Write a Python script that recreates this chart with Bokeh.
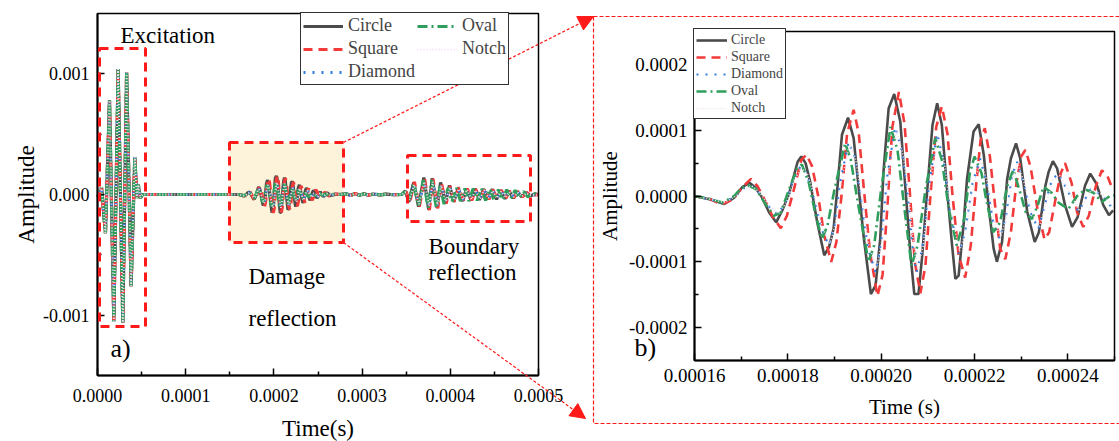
from bokeh.plotting import figure
from bokeh.models import (Range1d, FixedTicker, PrintfTickFormatter, Legend, LegendItem,
                          BoxAnnotation, Label, Arrow, NormalHead, LinearAxis)
from bokeh.embed import file_html
from bokeh.resources import INLINE

US = 1e-6   # time lists below are in microseconds
AU = 1e-4   # amplitude lists below are in units of 1e-4

models = ["Circle", "Square", "Diamond", "Oval", "Notch"]

# excitation tone burst (same for all five defect models)
exc_t = [0.0, 2.0, 4.5, 9.0, 13.6, 18.5, 23.4, 28.7, 33.0, 38.1, 42.3, 44.6, 46.3, 48.5, 51.0, 55.0]
exc_a = [0.0, -0.3, 0.6, -3.2, 7.8, -10.5, 10.4, -10.6, 10.1, -7.6, 3.1, -0.3, 0.8, -0.3, 0.0, 0.0]

# damage reflection, 160 - 275 us
circle_dmg_t = [160.0, 163.2, 166.4, 168.6, 170.3, 171.8, 173.0, 174.3, 176.0, 177.5, 178.8, 180.3,
                182.1, 182.9, 183.8, 184.8, 186.3, 187.8, 188.8, 189.8, 190.6, 191.6, 192.9, 194.1,
                195.2, 196.3, 197.8, 198.8, 199.8, 200.5, 201.6, 202.8, 204.1, 205.2, 206.3, 207.1,
                208.0, 208.8, 209.9, 211.0, 212.0, 213.0, 214.1, 215.2, 215.9, 216.6, 217.7, 218.4,
                219.8, 220.9, 222.0, 223.0, 224.1, 224.8, 225.9, 227.0, 227.8, 228.9, 229.8, 231.3,
                232.9, 233.8, 235.2, 235.9, 236.8, 237.7, 239.4, 240.9, 242.1, 243.7, 244.8, 246.1,
                247.6, 248.8, 249.7, 251.0, 252.5, 254.5, 256.5, 258.5, 261.0, 263.5, 266.0, 270.0, 275.0]
circle_dmg_a = [0.00, -0.05, -0.12, -0.02, 0.14, 0.20, 0.13, 0.00, -0.25, -0.40, -0.22, 0.04,
                0.52, 0.60, 0.50, 0.21, -0.40, -0.90, -0.78, -0.50, 0.11, 0.93, 1.19, 0.88,
                0.11, -0.65, -1.49, -1.36, -0.65, 0.37, 1.33, 1.55, 1.13, 0.11, -0.90, -1.49,
                -1.49, -0.90, 0.11, 1.08, 1.41, 1.08, 0.11, -0.75, -1.26, -1.21, -0.40, 0.26,
                0.98, 1.09, 0.62, -0.14, -0.80, -1.00, -0.70, 0.26, 0.57, 0.80, 0.57, -0.24,
                -0.70, -0.55, 0.16, 0.37, 0.53, 0.42, -0.14, -0.47, -0.32, 0.16, 0.34, 0.19,
                -0.14, -0.29, -0.22, 0.05, 0.22, -0.05, -0.18, 0.10, 0.12, -0.08, -0.06, 0.03, 0.00]

square_dmg_t = [160.0, 163.5, 165.7, 168.0, 170.5, 172.1, 173.5, 175.0, 176.8, 178.5, 179.8, 181.3,
                182.9, 184.0, 185.2, 186.5, 187.8, 189.3, 190.4, 191.5, 192.7, 194.1, 195.2, 196.3,
                197.6, 199.2, 200.3, 201.3, 202.4, 203.8, 205.0, 206.1, 207.2, 208.4, 209.5, 210.6,
                211.8, 213.0, 214.2, 215.3, 216.6, 218.0, 219.2, 220.4, 221.3, 222.2, 223.3, 224.5,
                225.5, 226.6, 227.8, 229.0, 230.0, 230.9, 232.0, 233.5, 235.0, 236.0, 237.5, 238.5,
                239.4, 240.8, 242.0, 243.3, 244.5, 246.0, 247.3, 248.5, 249.5, 251.5, 253.5, 256.0,
                258.0, 260.5, 263.0, 266.0, 270.0, 275.0]
square_dmg_a = [0.00, -0.05, -0.13, -0.06, 0.15, 0.26, 0.15, -0.05, -0.32, -0.49, -0.30, 0.10,
                0.55, 0.63, 0.45, 0.00, -0.60, -1.00, -0.70, 0.00, 0.95, 1.31, 0.95, 0.10,
                -0.85, -1.52, -1.20, -0.20, 1.05, 1.58, 1.10, 0.10, -1.00, -1.48, -1.05, 0.05,
                1.05, 1.36, 0.95, 0.00, -0.90, -1.24, -0.75, 0.20, 0.85, 1.03, 0.60, -0.20,
                -0.80, -0.96, -0.55, 0.20, 0.60, 0.70, 0.45, -0.20, -0.66, -0.55, 0.00, 0.35,
                0.50, 0.20, -0.25, -0.47, -0.30, 0.15, 0.39, 0.30, 0.12, -0.18, -0.25, 0.05,
                0.20, -0.05, -0.14, 0.06, 0.04, 0.00]

diamond_dmg_t = [160.0, 163.2, 166.2, 168.8, 170.6, 172.1, 173.8, 175.8, 177.8, 179.5, 181.2, 182.7,
                 184.0, 185.5, 187.2, 188.8, 190.0, 191.2, 193.0, 194.3, 195.6, 197.2, 198.8, 200.0,
                 201.3, 203.0, 204.4, 205.7, 206.8, 207.6, 208.8, 210.3, 212.0, 213.3, 214.7, 216.6,
                 218.0, 219.6, 221.2, 222.6, 224.0, 225.4, 226.8, 228.0, 229.1, 230.5, 232.0, 233.7,
                 235.2, 236.6, 238.0, 239.8, 242.3, 244.8, 247.3, 249.7, 252.0, 254.5, 257.0, 260.0,
                 264.0, 270.0, 275.0]
diamond_dmg_a = [0.00, -0.05, -0.10, 0.00, 0.12, 0.16, 0.05, -0.15, -0.28, -0.10, 0.25, 0.45,
                 0.35, 0.00, -0.50, -0.75, -0.45, 0.20, 0.82, 0.60, 0.00, -0.80, -1.16, -0.70,
                 0.30, 1.05, 0.70, 0.00, -0.80, -1.16, -0.80, 0.20, 0.95, 0.55, -0.20, -0.88,
                 -0.55, 0.20, 0.57, 0.20, -0.40, -0.65, -0.30, 0.30, 0.52, 0.20, -0.25, -0.50,
                 -0.10, 0.25, 0.34, 0.10, -0.24, 0.10, 0.02, -0.20, 0.10, 0.05, -0.10, 0.08,
                 -0.05, 0.02, 0.00]

oval_dmg_t = [160.0, 163.0, 166.0, 168.5, 170.0, 171.5, 173.3, 175.0, 177.0, 178.5, 180.0, 182.0,
              183.0, 184.5, 186.0, 187.3, 188.5, 190.0, 192.3, 193.5, 195.0, 197.3, 198.5, 200.0,
              202.0, 203.5, 205.0, 206.5, 207.8, 209.5, 211.6, 213.0, 214.5, 216.2, 217.8, 219.0,
              220.0, 221.5, 222.5, 224.0, 225.5, 227.0, 228.3, 229.8, 231.0, 232.3, 233.5, 234.8,
              236.5, 238.0, 240.1, 242.0, 243.7, 245.5, 247.3, 249.0, 250.0, 252.0, 255.0, 258.0,
              262.0, 268.0, 275.0]
oval_dmg_a = [0.00, -0.04, -0.10, 0.00, 0.12, 0.16, 0.10, -0.10, -0.30, -0.25, 0.05, 0.42,
              0.48, 0.20, -0.30, -0.65, -0.45, 0.10, 0.80, 0.55, -0.10, -1.00, -0.75, 0.10,
              1.05, 0.70, -0.20, -1.06, -0.75, 0.10, 0.88, 0.55, -0.20, -0.75, -0.35, 0.35,
              0.60, 0.35, -0.05, -0.55, -0.40, 0.15, 0.40, 0.05, -0.25, -0.35, -0.15, 0.14,
              0.05, -0.10, -0.20, 0.00, 0.10, 0.05, -0.09, 0.00, 0.01, 0.08, -0.06, 0.05,
              -0.04, 0.02, 0.00]

notch_dmg_t = [160.0, 163.4, 166.4, 169.0, 170.8, 172.3, 174.0, 176.0, 178.0, 179.7, 181.4, 182.9,
               184.2, 185.7, 187.4, 189.0, 190.2, 191.4, 193.2, 194.5, 195.8, 197.4, 199.0, 200.2,
               201.5, 203.2, 204.6, 205.9, 207.0, 207.8, 209.0, 210.5, 212.2, 213.5, 214.9, 216.8,
               218.2, 219.8, 221.4, 222.8, 224.2, 225.6, 227.0, 228.2, 229.3, 230.7, 232.2, 233.9,
               235.4, 236.8, 238.2, 240.0, 242.5, 245.0, 247.5, 249.9, 252.2, 254.7, 257.2, 260.2,
               264.2, 270.0, 275.0]
notch_dmg_a = [0.00, -0.05, -0.10, 0.00, 0.11, 0.15, 0.05, -0.14, -0.27, -0.10, 0.24, 0.43,
               0.33, 0.00, -0.48, -0.72, -0.43, 0.19, 0.78, 0.57, 0.00, -0.76, -1.10, -0.67,
               0.28, 1.00, 0.66, 0.00, -0.76, -1.10, -0.76, 0.19, 0.90, 0.52, -0.19, -0.84,
               -0.52, 0.19, 0.54, 0.19, -0.38, -0.62, -0.28, 0.28, 0.49, 0.19, -0.24, -0.47,
               -0.10, 0.24, 0.32, 0.10, -0.23, 0.09, 0.02, -0.18, 0.09, 0.05, -0.09, 0.07,
               -0.05, 0.02, 0.00]

# low-level ringing between the two reflections (all models)
gap_t = [282.0, 287.0, 292.0, 297.0, 302.0, 307.0, 313.0, 320.0, 328.0, 336.0]
gap_a = [0.06, -0.08, 0.08, -0.07, 0.06, -0.05, 0.04, -0.03, 0.03, -0.02]

# boundary reflection, 345 - 500 us
circle_bnd_t = [345.0, 349.0, 353.0, 358.5, 364.0, 370.0, 375.5, 379.5, 385.0, 389.0, 394.5, 399.0,
                404.0, 409.0, 414.0, 418.5, 423.5, 428.0, 433.0, 438.0, 443.0, 447.5, 452.5, 457.0,
                462.0, 466.5, 471.5, 476.0, 481.0, 486.0, 491.0, 496.0, 500.0]
circle_bnd_a = [0.0, 0.3, -0.6, 1.0, -1.0, 1.4, -1.25, 1.35, -1.1, 1.0, -0.7, 0.75,
                -0.6, 0.55, -0.55, 0.5, -0.5, 0.5, -0.45, 0.45, -0.4, 0.45, -0.4, 0.35,
                -0.35, 0.3, -0.3, 0.25, -0.2, 0.15, -0.1, 0.05, 0.0]

square_bnd_t = [345.0, 349.8, 353.8, 359.3, 364.8, 370.8, 376.3, 380.3, 385.8, 389.8, 395.3, 399.8,
                404.8, 409.8, 414.8, 419.3, 424.3, 428.8, 433.8, 438.8, 443.8, 448.3, 453.3, 457.8,
                462.8, 467.3, 472.3, 476.8, 481.8, 486.8, 491.8, 500.0]
square_bnd_a = [0.0, 0.3, -0.7, 1.05, -1.05, 1.35, -1.3, 1.3, -1.15, 0.95, -0.75, 0.7,
                -0.6, 0.6, -0.5, 0.5, -0.5, 0.45, -0.45, 0.45, -0.4, 0.4, -0.35, 0.35,
                -0.35, 0.3, -0.25, 0.25, -0.2, 0.15, -0.1, 0.0]

diamond_bnd_t = [345.0, 349.4, 353.4, 358.9, 364.4, 370.4, 375.9, 379.9, 385.4, 389.4, 394.9, 399.4,
                 404.4, 409.4, 414.4, 418.9, 423.9, 428.4, 433.4, 438.4, 443.4, 447.9, 452.9, 457.4,
                 462.4, 466.9, 471.9, 476.4, 481.4, 486.4, 491.4, 500.0]
diamond_bnd_a = [0.0, 0.25, -0.5, 0.85, -0.85, 1.1, -1.0, 1.1, -0.9, 0.8, -0.6, 0.6,
                 -0.5, 0.45, -0.45, 0.4, -0.4, 0.4, -0.35, 0.35, -0.3, 0.35, -0.3, 0.3,
                 -0.25, 0.25, -0.2, 0.2, -0.15, 0.1, -0.05, 0.0]

oval_bnd_t = [345.0, 349.0, 353.0, 358.5, 364.0, 369.5, 375.0, 379.0, 384.0, 388.5, 393.0, 397.5,
              402.0, 407.0, 411.5, 416.5, 421.0, 426.0, 430.5, 435.5, 440.0, 445.0, 449.5, 454.5,
              459.0, 464.0, 468.5, 473.5, 478.0, 483.0, 488.0, 493.0, 500.0]
oval_bnd_a = [0.0, 0.25, -0.5, 0.9, -0.95, 1.2, -1.1, 1.2, -1.0, 0.7, -0.8, 0.55,
              -0.6, 0.55, -0.55, 0.5, -0.55, 0.5, -0.5, 0.5, -0.5, 0.45, -0.45, 0.4,
              -0.45, 0.4, -0.35, 0.35, -0.3, 0.25, -0.2, 0.1, 0.0]

notch_bnd_t = [345.0, 349.5, 353.5, 359.0, 364.5, 370.5, 376.0, 380.0, 385.5, 389.5, 395.0, 399.5,
               404.5, 409.5, 414.5, 419.0, 424.0, 428.5, 433.5, 438.5, 443.5, 448.0, 453.0, 457.5,
               462.5, 467.0, 472.0, 476.5, 481.5, 486.5, 491.5, 500.0]
notch_bnd_a = [0.0, 0.2, -0.45, 0.8, -0.8, 1.05, -0.95, 1.05, -0.85, 0.75, -0.55, 0.55,
               -0.45, 0.45, -0.4, 0.4, -0.4, 0.35, -0.35, 0.35, -0.3, 0.3, -0.3, 0.25,
               -0.25, 0.2, -0.2, 0.15, -0.15, 0.1, -0.05, 0.0]

damage = {"Circle": (circle_dmg_t, circle_dmg_a), "Square": (square_dmg_t, square_dmg_a),
          "Diamond": (diamond_dmg_t, diamond_dmg_a), "Oval": (oval_dmg_t, oval_dmg_a),
          "Notch": (notch_dmg_t, notch_dmg_a)}
boundary = {"Circle": (circle_bnd_t, circle_bnd_a), "Square": (square_bnd_t, square_bnd_a),
            "Diamond": (diamond_bnd_t, diamond_bnd_a), "Oval": (oval_bnd_t, oval_bnd_a),
            "Notch": (notch_bnd_t, notch_bnd_a)}

# axis limits and tick positions of the two panels
a_xlim, a_ylim = (0.0, 0.0005), (-0.0015, 0.0015)
a_xticks = [0.0, 0.0001, 0.0002, 0.0003, 0.0004, 0.0005]
a_xminor = [0.00005, 0.00015, 0.00025, 0.00035, 0.00045]
a_yticks = [-0.001, 0.0, 0.001]
a_yminor = [-0.0005, 0.0005]
b_xlim, b_ylim = (0.00016, 0.00025), (-0.00025, 0.00025)
b_xticks = [0.00016, 0.00018, 0.0002, 0.00022, 0.00024]
b_xminor = [0.00017, 0.00019, 0.00021, 0.00023, 0.00025]
b_yticks = [-0.0002, -0.0001, 0.0, 0.0001, 0.0002]
b_yminor = [-0.00015, -0.00005, 0.00005, 0.00015]

COLOR = {"Circle": "#4b4b4b", "Square": "#f23a3a", "Diamond": "#2f7ddf",
         "Oval": "#2f9e5c", "Notch": "#eedcee"}
DASH = {"Circle": "solid", "Square": "9 6", "Diamond": "2 7", "Oval": "10 4 2 4", "Notch": "1 2"}
WIDTH_A = {"Circle": 3.2, "Square": 3.2, "Diamond": 2.8, "Oval": 3.2, "Notch": 2.0}
WIDTH_B = {"Circle": 2.6, "Square": 2.6, "Diamond": 2.2, "Oval": 2.6, "Notch": 1.6}
FONT = "Liberation Serif"
RED = "#ff1a1a"

# page geometry (pixels): one canvas, each panel's plot box placed inside it
W, H = 1119, 441
A_BOX = (97, 538, 13, 375)     # left, right, top, bottom
B_BOX = (694, 1114, 31, 360)


def canvas_ranges(box, xlim, ylim):
    left, right, top, bottom = box
    sx = (xlim[1] - xlim[0]) / (right - left)
    sy = (ylim[1] - ylim[0]) / (bottom - top)
    x0 = xlim[0] - left * sx
    y1 = ylim[1] + top * sy
    conv = lambda px, py: (x0 + px * sx, y1 - py * sy)
    return Range1d(x0, x0 + W * sx), Range1d(y1 - H * sy, y1), conv


a_xr, a_yr, a_pt = canvas_ranges(A_BOX, a_xlim, a_ylim)
b_xr, b_yr, b_pt = canvas_ranges(B_BOX, b_xlim, b_ylim)

p = figure(width=W, height=H, x_range=a_xr, y_range=a_yr, title=None,
           x_axis_location=None, y_axis_location=None,
           output_backend="svg", toolbar_location=None,
           min_border_left=0, min_border_right=0, min_border_top=0, min_border_bottom=0,
           background_fill_color="white", border_fill_color="white", outline_line_color=None)
p.grid.visible = False
p.extra_x_ranges = {"b": b_xr}
p.extra_y_ranges = {"b": b_yr}


def add_axes(rn, xlim, ylim, xt, xm, yt, ym, xfmt, yfmt, xlab, ylab, tick_px, lab_px, st):
    xa = LinearAxis(x_range_name=rn, y_range_name=rn, fixed_location=ylim[0], bounds=xlim,
                    ticker=FixedTicker(ticks=xt, minor_ticks=xm),
                    formatter=PrintfTickFormatter(format=xfmt), axis_label=xlab)
    ya = LinearAxis(x_range_name=rn, y_range_name=rn, fixed_location=xlim[0], bounds=ylim,
                    ticker=FixedTicker(ticks=yt, minor_ticks=ym),
                    formatter=PrintfTickFormatter(format=yfmt), axis_label=ylab)
    for ax in (xa, ya):
        ax.axis_line_width = 2
        ax.axis_line_color = "black"
        ax.major_tick_in = 7
        ax.major_tick_out = 0
        ax.minor_tick_in = 4
        ax.minor_tick_out = 0
        ax.major_tick_line_width = 1.5
        ax.minor_tick_line_width = 1.5
        ax.major_label_text_font = FONT
        ax.major_label_text_font_size = f"{tick_px}px"
        ax.major_label_text_color = "black"
        ax.axis_label_text_font = FONT
        ax.axis_label_text_font_size = f"{lab_px}px"
        ax.axis_label_text_font_style = "normal"
        ax.axis_label_text_color = "black"
    xa.major_label_standoff, ya.major_label_standoff = st[0], st[1]
    xa.axis_label_standoff, ya.axis_label_standoff = st[2], st[3]
    p.add_layout(xa, "below")
    p.add_layout(ya, "left")
    # top and right edges of the plot box
    p.add_layout(BoxAnnotation(left=xlim[0], right=xlim[1], bottom=ylim[0], top=ylim[1],
                               x_range_name=rn, y_range_name=rn, fill_alpha=0,
                               line_color="black", line_alpha=1, line_width=1.5))


# ---------------- panel a: whole record ----------------
dl, dt = a_pt(229, 142)
dr, db = a_pt(343, 242)
p.add_layout(BoxAnnotation(left=dl, right=dr, top=dt, bottom=db,
                           fill_color="#fdf3da", fill_alpha=1, line_color=RED, line_alpha=1,
                           line_width=3, line_dash="9 6", level="underlay"))

rend_a = []
for m in models:
    t = exc_t + damage[m][0] + gap_t + boundary[m][0]
    a = exc_a + damage[m][1] + gap_a + boundary[m][1]
    rend_a.append(p.line([v * US for v in t], [v * AU for v in a], line_color=COLOR[m],
                         line_width=WIDTH_A[m], line_dash=DASH[m]))

add_axes("default", a_xlim, a_ylim, a_xticks, a_xminor, a_yticks, a_yminor, "%.4f", "%.3f",
         "Time(s)", "Amplitude", 18, 23, (13, 8, 11, 1))

for box in [(99, 145, 48, 326), (407, 530, 155, 221)]:
    l, t = a_pt(box[0], box[2])
    r, b = a_pt(box[1], box[3])
    p.add_layout(BoxAnnotation(left=l, right=r, top=t, bottom=b, fill_alpha=0,
                               line_color=RED, line_alpha=1, line_width=3, line_dash="9 6"))

for txt, px, py, size in [("Excitation", 120, 35, 23), ("Damage", 248, 276, 23),
                          ("reflection", 248, 318, 23), ("Boundary", 428, 246, 23),
                          ("reflection", 428, 272, 23), ("a)", 110, 348, 26)]:
    x, y = a_pt(px, py)
    p.add_layout(Label(x=x, y=y, text=txt, text_font=FONT, text_font_size=f"{size}px",
                       text_baseline="middle", text_align="left", text_color="black"))

leg_a = Legend(items=[LegendItem(label=m, renderers=[r]) for m, r in zip(models, rend_a)],
               location=(300, H - 85), orientation="vertical", nrows=3,
               label_text_font=FONT, label_text_font_size="18px",
               glyph_width=40, glyph_height=20, label_height=20, label_standoff=5,
               spacing=2, padding=2, margin=0,
               border_line_color="#333333", border_line_width=1.5, border_line_alpha=1,
               background_fill_color="white", background_fill_alpha=1)
p.add_layout(leg_a)

# ---------------- panel b: damage reflection detail ----------------
rend_b = []
for m in models:
    t, a = damage[m]
    keep = [i for i, v in enumerate(t) if v * US <= b_xlim[1]]
    rend_b.append(p.line([t[i] * US for i in keep], [a[i] * AU for i in keep],
                         x_range_name="b", y_range_name="b", line_color=COLOR[m],
                         line_width=WIDTH_B[m], line_dash=DASH[m]))

add_axes("b", b_xlim, b_ylim, b_xticks, b_xminor, b_yticks, b_yminor, "%.5f", "%.4f",
         "Time (s)", "Amplitude", 19, 21, (8, 7, 10, 4))

leg_b = Legend(items=[LegendItem(label=m, renderers=[r]) for m, r in zip(models, rend_b)],
               location=(693, H - 119), orientation="vertical",
               label_text_font=FONT, label_text_font_size="14px",
               glyph_width=31, glyph_height=16, label_height=17, label_standoff=4,
               spacing=0, padding=2, margin=0,
               border_line_color="#333333", border_line_width=1.5, border_line_alpha=1,
               background_fill_color="white", background_fill_alpha=1)
p.add_layout(leg_b)

bx, by = b_pt(634, 347)
p.add_layout(Label(x=bx, y=by, text="b)", text_font=FONT, text_font_size="26px",
                   x_range_name="b", y_range_name="b",
                   text_baseline="middle", text_align="left", text_color="black"))

# dashed frame around the detail panel
fl, ft = b_pt(593, 16)
fr, fb = b_pt(1130, 423)
p.add_layout(BoxAnnotation(left=fl, right=fr, top=ft, bottom=fb, x_range_name="b", y_range_name="b",
                           fill_alpha=0, line_color=RED, line_alpha=1, line_width=1.2,
                           line_dash="4 2"))

# arrows from the damage window to the detail panel
for sx, sy, ex, ey in [(343, 142, 593, 16), (343, 242, 585, 418)]:
    x0, y0 = a_pt(sx, sy)
    x1, y1 = a_pt(ex, ey)
    p.add_layout(Arrow(x_start=x0, y_start=y0, x_end=x1, y_end=y1,
                       end=NormalHead(size=15, fill_color=RED, line_color=RED, line_width=1),
                       line_color=RED, line_width=1.2, line_dash="3 2"))

open("out.html", "w").write(file_html(p, INLINE))
